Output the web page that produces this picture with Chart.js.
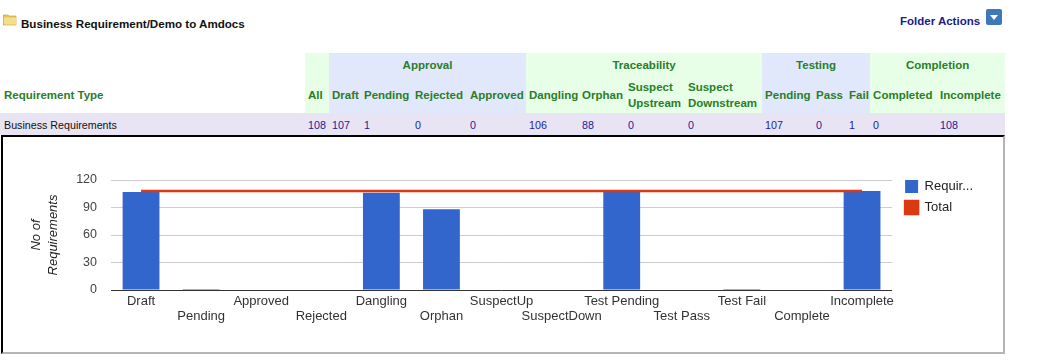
<!DOCTYPE html>
<html>
<head>
<meta charset="utf-8">
<title>Business Requirement/Demo to Amdocs</title>
<script src="https://cdn.jsdelivr.net/npm/chart.js@4"></script>
<style>
  html, body { margin: 0; padding: 0; background: #fff; overflow: hidden; }
  body { width: 1052px; height: 362px; position: relative; font-family: "Liberation Sans", Arial, sans-serif; }
  .folder-icon { position: absolute; left: 3px; top: 14px; }
  .folder-title { position: absolute; left: 21px; top: 17px; font-size: 11.6px; font-weight: bold; color: #111; }
  .folder-actions { position: absolute; left: 900px; top: 15px; font-size: 11.5px; font-weight: bold; color: #1a1a8c; }
  .action-icon { position: absolute; left: 986px; top: 9px; }
  table { position: absolute; left: 0; top: 53px; width: 1005px; table-layout: fixed; border-collapse: collapse; }
  th, td { padding: 0 0 0 3px; text-align: left; overflow: hidden; white-space: nowrap; }
  th { font-size: 11.5px; font-weight: bold; color: #2a7d2a; line-height: 16px; }
  td { font-size: 10.7px; color: #22229a; }
  .group-row th { height: 24px; text-align: center; padding: 0; }
  .label-row th { height: 36px; }
  .count-row td { height: 21px; padding-top: 1px; background: #e8e4f4; }
  .count-row td:first-child { color: #111; padding-left: 4px; }
  th:first-child { padding-left: 4px; }
  .green { background: #e6ffe6; }
  .blue { background: #e1e8fc; }
  .chart-box {
    position: absolute; left: 1px; top: 135px; width: 1000px; height: 215px;
    border-style: solid; border-width: 2px; border-color: #000 #b4b4b4 #b4b4b4 #000;
  }
  canvas { display: block; }
</style>
</head>
<body>
  <svg class="folder-icon" width="14" height="12" viewBox="0 0 14 12">
    <path d="M0 1h5l1 1h7v9H0z" fill="#e6c65c" stroke="#c09a35" stroke-width="0.6"/>
    <rect x="1" y="3.5" width="12" height="7" fill="#f5df8c"/>
  </svg>
  <div class="folder-title">Business Requirement/Demo to Amdocs</div>
  <div class="folder-actions">Folder Actions</div>
  <svg class="action-icon" width="16" height="16" viewBox="0 0 16 16">
    <rect width="16" height="16" rx="2" fill="#3d78b8"/>
    <path d="M4 6h8l-4 5z" fill="#fff"/>
  </svg>

  <table>
    <colgroup>
      <col style="width:305px"><col style="width:24px">
      <col style="width:32px"><col style="width:51px"><col style="width:55px"><col style="width:59px">
      <col style="width:53px"><col style="width:46px"><col style="width:60px"><col style="width:77px">
      <col style="width:51px"><col style="width:33px"><col style="width:24px">
      <col style="width:67px"><col style="width:68px">
    </colgroup>
    <tr class="group-row">
      <th></th><th class="green"></th>
      <th class="blue" colspan="4">Approval</th>
      <th class="green" colspan="4">Traceability</th>
      <th class="blue" colspan="3">Testing</th>
      <th class="green" colspan="2">Completion</th>
    </tr>
    <tr class="label-row">
      <th>Requirement Type</th><th class="green">All</th>
      <th class="blue">Draft</th><th class="blue">Pending</th><th class="blue">Rejected</th><th class="blue">Approved</th>
      <th class="green">Dangling</th><th class="green">Orphan</th><th class="green">Suspect<br>Upstream</th><th class="green">Suspect<br>Downstream</th>
      <th class="blue">Pending</th><th class="blue">Pass</th><th class="blue">Fail</th>
      <th class="green">Completed</th><th class="green">Incomplete</th>
    </tr>
    <tr class="count-row">
      <td>Business Requirements</td><td>108</td>
      <td>107</td><td>1</td><td>0</td><td>0</td>
      <td>106</td><td>88</td><td>0</td><td>0</td>
      <td>107</td><td>0</td><td>1</td>
      <td>0</td><td>108</td>
    </tr>
  </table>

  <div class="chart-box"><canvas id="req-chart" width="1000" height="215"></canvas></div>

<script>
const categories = ['Draft', 'Pending', 'Approved', 'Rejected', 'Dangling', 'Orphan', 'SuspectUp', 'SuspectDown', 'Test Pending', 'Test Pass', 'Test Fail', 'Complete', 'Incomplete'];
const requirements = [107, 1, 0, 0, 106, 88, 0, 0, 107, 0, 1, 0, 108];
const total = [108, 108, 108, 108, 108, 108, 108, 108, 108, 108, 108, 108, 108];
const yTicks = [0, 30, 60, 90, 120];

const FONT = '"Liberation Sans", Arial, sans-serif';

// legend sits a little off the plot and level with the top gridline
const legendNudge = {
  id: 'legendNudge',
  afterLayout(chart) {
    chart.legend.left += 5;
    chart.legend.right += 5;
    chart.legend.top -= 8;
    chart.legend.bottom -= 8;
  }
};

new Chart(document.getElementById('req-chart'), {
  type: 'bar',
  plugins: [legendNudge],
  data: {
    labels: categories,
    datasets: [{
      type: 'line',
      label: 'Total',
      data: total,
      borderColor: '#dc3912',
      backgroundColor: '#dc3912',
      borderWidth: 2.5,
      pointRadius: 0,
      tension: 0,
      order: 0
    }, {
      label: 'Requir...',
      data: requirements,
      backgroundColor: '#3366cc',
      barPercentage: 0.613,
      categoryPercentage: 1,
      order: 1
    }]
  },
  options: {
    responsive: false,
    animation: false,
    layout: { padding: { top: 43, left: 25, right: 25, bottom: 0 } },
    scales: {
      x: {
        grid: { display: false, drawTicks: false },
        border: { display: false },
        afterFit(scale) { scale.height = 62; },
        ticks: {
          autoSkip: false,
          maxRotation: 0,
          minRotation: 0,
          padding: 4,
          color: '#333',
          font: { family: FONT, size: 13, lineHeight: '15px' },
          callback(value, index) {
            return index % 2 ? ['', categories[index]] : categories[index];
          }
        }
      },
      y: {
        min: 0,
        max: 120,
        afterFit(scale) { scale.width = 83; },
        afterBuildTicks(scale) { scale.ticks = yTicks.map(value => ({ value })); },
        grid: {
          drawTicks: false,
          color: ctx => ctx.tick.value === 0 ? '#333' : '#ccc'
        },
        border: { display: false },
        ticks: {
          padding: 14,
          color: '#444',
          font: { family: FONT, size: 12.5 }
        },
        title: {
          display: true,
          text: ['No of', 'Requirements'],
          color: '#222',
          padding: 0,
          font: { family: FONT, size: 13, style: 'italic', lineHeight: '17px' }
        }
      }
    },
    plugins: {
      tooltip: { enabled: false },
      legend: {
        position: 'right',
        align: 'start',
        reverse: true,
        onClick: null,
        labels: {
          boxWidth: 13,
          boxHeight: 13,
          padding: 8,
          color: '#222',
          font: { family: FONT, size: 13 }
        }
      }
    }
  }
});
</script>
</body>
</html>
